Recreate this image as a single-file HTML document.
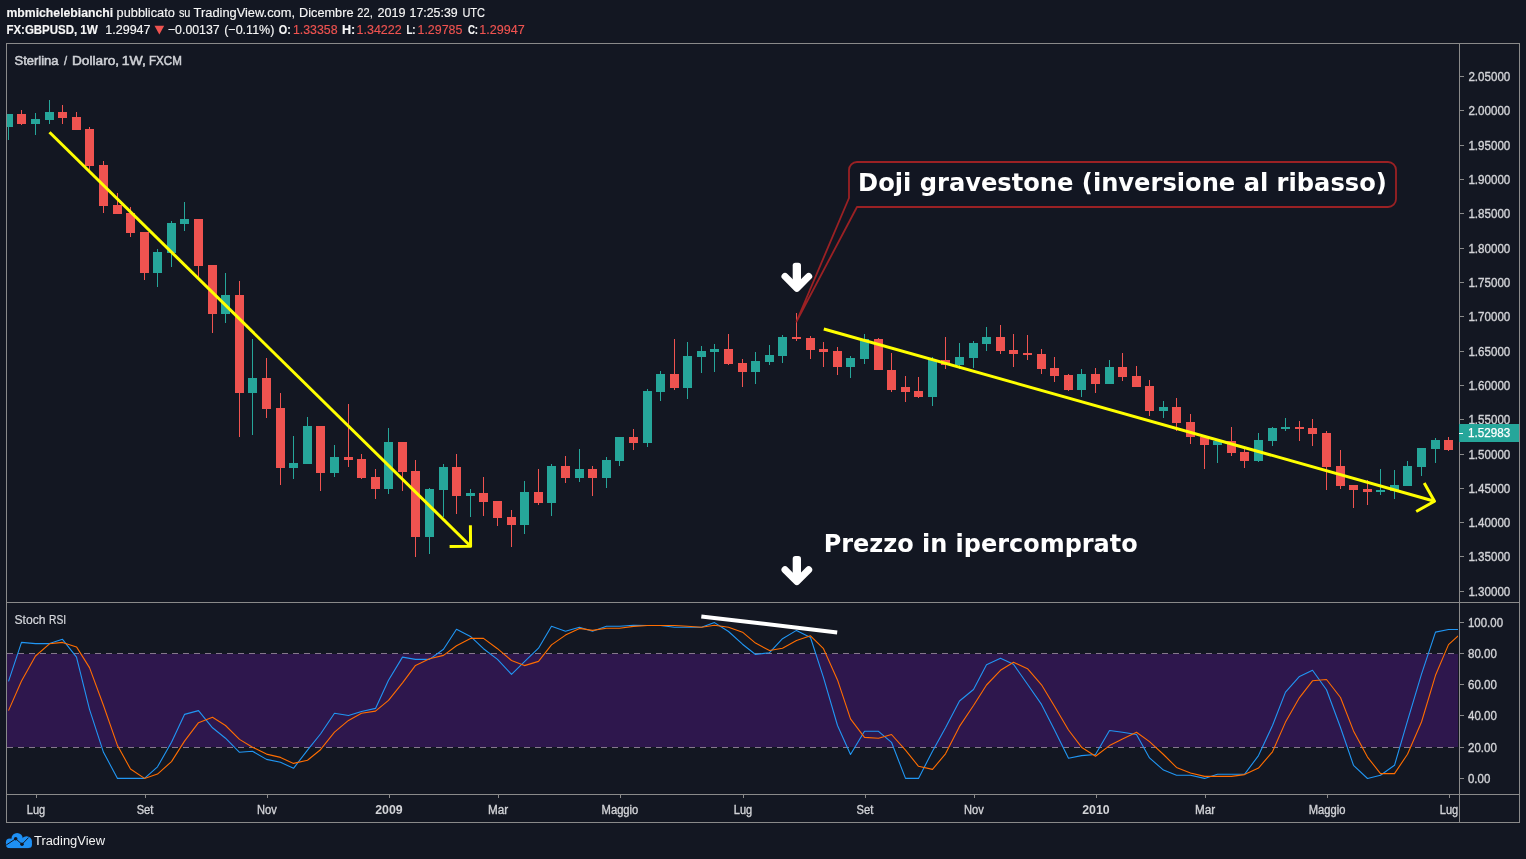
<!DOCTYPE html><html lang="it"><head><meta charset="utf-8"><title>GBPUSD</title><style>
html,body{margin:0;padding:0;background:#131722}body{width:1526px;height:859px;overflow:hidden;position:relative}
svg{display:block;position:absolute;left:0;top:0;will-change:transform}
text{font-family:"Liberation Sans",sans-serif;fill:#d1d4dc}
.b{font-weight:bold}.ax{font-size:12px;fill:#d2d3d7}.sb{stroke:#d2d3d7;stroke-width:0.35px}.dj{font-family:"DejaVu Sans",sans-serif;font-weight:bold;font-size:24px;fill:#fff}
.hd{font-size:13px;fill:#f6f6f6;stroke:#f6f6f6;stroke-width:0.15px}.rd{fill:#ef5350;stroke:#ef5350}.sr{font-size:12px;fill:#d6d8dd;stroke:#d6d8dd;stroke-width:0.2px}.st{font-size:12px;fill:#cfd1d6;stroke:#cfd1d6;stroke-width:0.5px}
</style></head><body>
<svg width="1526" height="859" viewBox="0 0 1526 859">
<rect width="1526" height="859" fill="#131722"/>
<defs><clipPath id="cm"><rect x="7" y="44" width="1451" height="558"/></clipPath><clipPath id="cs"><rect x="7" y="603" width="1451" height="191"/></clipPath><clipPath id="ct"><rect x="7" y="795" width="1452" height="27"/></clipPath></defs>
<text x="6.4" y="16.5" class="hd b" textLength="106.8" lengthAdjust="spacingAndGlyphs">mbmichelebianchi</text>
<text x="116.6" y="16.5" class="hd" textLength="58.2" lengthAdjust="spacingAndGlyphs">pubblicato</text>
<text x="178.9" y="16.5" class="hd" textLength="11.5" lengthAdjust="spacingAndGlyphs">su</text>
<text x="193.6" y="16.5" class="hd" textLength="101.4" lengthAdjust="spacingAndGlyphs">TradingView.com,</text>
<text x="299.1" y="16.5" class="hd" textLength="54.4" lengthAdjust="spacingAndGlyphs">Dicembre</text>
<text x="357.3" y="16.5" class="hd" textLength="15.5" lengthAdjust="spacingAndGlyphs">22,</text>
<text x="377.4" y="16.5" class="hd" textLength="28.1" lengthAdjust="spacingAndGlyphs">2019</text>
<text x="409.5" y="16.5" class="hd" textLength="48.2" lengthAdjust="spacingAndGlyphs">17:25:39</text>
<text x="462.4" y="16.5" class="hd" textLength="22.7" lengthAdjust="spacingAndGlyphs">UTC</text>
<text x="6.4" y="33.6" class="hd b" textLength="70.8" lengthAdjust="spacingAndGlyphs">FX:GBPUSD,</text>
<text x="80.3" y="33.6" class="hd b" textLength="17.7" lengthAdjust="spacingAndGlyphs">1W</text>
<text x="105.3" y="33.6" class="hd" textLength="45.2" lengthAdjust="spacingAndGlyphs">1.29947</text>
<text x="167.9" y="33.6" class="hd" textLength="51.8" lengthAdjust="spacingAndGlyphs">−0.00137</text>
<text x="224.2" y="33.6" class="hd" textLength="50.2" lengthAdjust="spacingAndGlyphs">(−0.11%)</text>
<text x="278.7" y="33.6" class="hd b" textLength="12.1" lengthAdjust="spacingAndGlyphs">O:</text>
<text x="292.9" y="33.6" class="hd rd" textLength="44.7" lengthAdjust="spacingAndGlyphs">1.33358</text>
<text x="341.9" y="33.6" class="hd b" textLength="13.3" lengthAdjust="spacingAndGlyphs">H:</text>
<text x="356.5" y="33.6" class="hd rd" textLength="45.2" lengthAdjust="spacingAndGlyphs">1.34222</text>
<text x="406.4" y="33.6" class="hd b" textLength="9.2" lengthAdjust="spacingAndGlyphs">L:</text>
<text x="417.5" y="33.6" class="hd rd" textLength="44.9" lengthAdjust="spacingAndGlyphs">1.29785</text>
<text x="467.9" y="33.6" class="hd b" textLength="10.2" lengthAdjust="spacingAndGlyphs">C:</text>
<text x="479.2" y="33.6" class="hd rd" textLength="45.5" lengthAdjust="spacingAndGlyphs">1.29947</text>
<text x="14.5" y="64.6" class="st" textLength="44.0" lengthAdjust="spacingAndGlyphs">Sterlina</text>
<text x="63.9" y="64.6" class="st" textLength="3.1" lengthAdjust="spacingAndGlyphs">/</text>
<text x="72.0" y="64.6" class="st" textLength="47.1" lengthAdjust="spacingAndGlyphs">Dollaro,</text>
<text x="121.7" y="64.6" class="st" textLength="24.1" lengthAdjust="spacingAndGlyphs">1W,</text>
<text x="149.0" y="64.6" class="st" textLength="32.8" lengthAdjust="spacingAndGlyphs">FXCM</text>
<text x="14.5" y="623.9" class="sr" textLength="31.1" lengthAdjust="spacingAndGlyphs">Stoch</text>
<text x="49.0" y="623.9" class="sr" textLength="17.1" lengthAdjust="spacingAndGlyphs">RSI</text>
<path d="M154.5 25.7H164.2L159.35 34.5Z" fill="#ef5350"/>
<g fill="#8a8a8a" shape-rendering="crispEdges">
<rect x="6" y="43" width="1514" height="1"/><rect x="6" y="602" width="1514" height="1"/><rect x="6" y="794" width="1514" height="1"/><rect x="6" y="822" width="1514" height="1"/>
<rect x="6" y="43" width="1" height="780"/><rect x="1459" y="43" width="1" height="780"/><rect x="1519" y="43" width="1" height="780"/>
<rect x="1460" y="76" width="4" height="1"/>
<rect x="1460" y="110" width="4" height="1"/>
<rect x="1460" y="145" width="4" height="1"/>
<rect x="1460" y="179" width="4" height="1"/>
<rect x="1460" y="213" width="4" height="1"/>
<rect x="1460" y="248" width="4" height="1"/>
<rect x="1460" y="282" width="4" height="1"/>
<rect x="1460" y="316" width="4" height="1"/>
<rect x="1460" y="351" width="4" height="1"/>
<rect x="1460" y="385" width="4" height="1"/>
<rect x="1460" y="419" width="4" height="1"/>
<rect x="1460" y="454" width="4" height="1"/>
<rect x="1460" y="488" width="4" height="1"/>
<rect x="1460" y="522" width="4" height="1"/>
<rect x="1460" y="556" width="4" height="1"/>
<rect x="1460" y="591" width="4" height="1"/>
<rect x="1460" y="778" width="4" height="1"/>
<rect x="1460" y="747" width="4" height="1"/>
<rect x="1460" y="715" width="4" height="1"/>
<rect x="1460" y="684" width="4" height="1"/>
<rect x="1460" y="653" width="4" height="1"/>
<rect x="1460" y="622" width="4" height="1"/>
</g>
<rect x="7" y="654" width="1451" height="93" fill="#2e174d"/>
<g stroke="#85788c" stroke-width="1" stroke-dasharray="6,5" shape-rendering="crispEdges"><line x1="7" y1="653.5" x2="1458" y2="653.5"/><line x1="7" y1="747.5" x2="1458" y2="747.5"/></g>
<polyline clip-path="url(#cs)" points="8.5,681.4 21.5,642.4 35.5,643.6 49.5,643.6 62.5,639.3 76.5,657.1 89.5,709.3 103.5,752.3 117.5,778.4 130.5,778.4 144.5,778.4 157.5,766.8 171.5,742.3 184.5,714.4 198.5,710.6 212.5,727.8 225.5,738.2 239.5,752.3 252.5,751.2 266.5,759.4 280.5,762.3 293.5,768.3 307.5,750.1 320.5,734.0 334.5,713.3 348.5,715.5 361.5,711.5 375.5,708.4 388.5,680.3 402.5,657.1 415.5,659.4 429.5,659.4 443.5,649.3 456.5,629.3 470.5,636.4 483.5,648.7 497.5,659.4 511.5,674.3 524.5,661.6 538.5,648.2 551.5,626.2 565.5,631.3 579.5,627.3 592.5,631.3 606.5,626.2 619.5,626.2 633.5,625.3 647.5,625.5 660.5,625.5 674.5,627.3 687.5,627.3 701.5,627.3 714.5,622.6 728.5,631.5 742.5,644.2 755.5,654.5 769.5,652.7 782.5,638.7 796.5,630.4 810.5,637.5 823.5,677.6 837.5,725.5 850.5,754.5 864.5,731.3 878.5,731.3 891.5,742.3 905.5,778.4 918.5,778.4 932.5,751.2 945.5,727.8 959.5,701.0 973.5,689.5 986.5,664.7 1000.5,658.3 1013.5,664.3 1027.5,684.3 1041.5,704.4 1054.5,730.0 1068.5,758.3 1081.5,755.6 1095.5,754.5 1109.5,730.5 1122.5,732.2 1136.5,734.5 1149.5,757.9 1163.5,770.1 1176.5,775.2 1190.5,775.2 1204.5,778.4 1217.5,774.3 1231.5,774.3 1244.5,774.3 1258.5,755.6 1272.5,725.5 1285.5,692.1 1299.5,676.4 1312.5,670.2 1326.5,689.7 1340.5,727.5 1353.5,765.3 1367.5,778.5 1380.5,775.3 1394.5,765.3 1407.5,720.9 1421.5,674.2 1435.5,632.1 1448.5,629.5 1462.5,629.5" fill="none" stroke="#2196f3" stroke-width="1.1" stroke-linejoin="round"/>
<polyline clip-path="url(#cs)" points="8.5,710.6 21.5,681.0 35.5,656.0 49.5,643.8 62.5,642.4 76.5,646.9 89.5,667.6 103.5,705.5 117.5,745.6 130.5,769.0 144.5,778.4 157.5,774.1 171.5,761.6 184.5,741.1 198.5,722.7 212.5,717.3 225.5,725.5 239.5,739.4 252.5,747.2 266.5,754.1 280.5,757.4 293.5,763.4 307.5,760.3 320.5,749.7 334.5,732.2 348.5,720.4 361.5,713.3 375.5,711.1 388.5,700.4 402.5,682.8 415.5,665.4 429.5,658.7 443.5,655.4 456.5,645.8 470.5,638.4 483.5,638.4 497.5,648.7 511.5,660.5 524.5,665.6 538.5,661.4 551.5,644.9 565.5,635.1 579.5,628.4 592.5,630.4 606.5,628.2 619.5,628.2 633.5,626.4 647.5,625.5 660.5,625.5 674.5,625.5 687.5,626.2 701.5,627.3 714.5,625.3 728.5,627.3 742.5,632.2 755.5,643.1 769.5,650.5 782.5,648.2 796.5,640.4 810.5,635.8 823.5,648.7 837.5,679.9 850.5,718.9 864.5,737.4 878.5,738.3 891.5,734.5 905.5,750.1 918.5,766.3 932.5,769.4 945.5,753.8 959.5,726.4 973.5,705.5 986.5,685.0 1000.5,670.3 1013.5,662.3 1027.5,668.7 1041.5,684.8 1054.5,706.2 1068.5,730.0 1081.5,747.2 1095.5,756.3 1109.5,745.6 1122.5,738.9 1136.5,732.2 1149.5,741.6 1163.5,754.5 1176.5,767.4 1190.5,773.0 1204.5,776.4 1217.5,776.4 1231.5,776.4 1244.5,774.6 1258.5,768.1 1272.5,751.8 1285.5,722.1 1299.5,697.6 1312.5,680.8 1326.5,679.5 1340.5,697.5 1353.5,730.9 1367.5,757.1 1380.5,773.6 1394.5,773.6 1407.5,754.2 1421.5,722.0 1435.5,675.3 1448.5,644.6 1462.5,631.9" fill="none" stroke="#ff6d00" stroke-width="1.1" stroke-linejoin="round"/>
<line x1="701.3" y1="616.4" x2="837.2" y2="632.4" stroke="#fff" stroke-width="4"/>
<g clip-path="url(#cm)" shape-rendering="crispEdges">
<path fill="#26a69a" d="M8 114h1v26h-1zM4 114h9v13h-9z"/>
<path fill="#ef5350" d="M21 110h1v15h-1zM17 114h9v10h-9z"/>
<path fill="#26a69a" d="M35 113h1v22h-1zM31 119h9v5h-9z"/>
<path fill="#26a69a" d="M49 100h1v24h-1zM45 112h9v8h-9z"/>
<path fill="#ef5350" d="M62 105h1v19h-1zM58 112h9v6h-9z"/>
<path fill="#ef5350" d="M76 112h1v18h-1zM72 117h9v13h-9z"/>
<path fill="#ef5350" d="M89 127h1v43h-1zM85 129h9v37h-9z"/>
<path fill="#ef5350" d="M103 161h1v52h-1zM99 165h9v41h-9z"/>
<path fill="#ef5350" d="M117 193h1v21h-1zM113 205h9v9h-9z"/>
<path fill="#ef5350" d="M130 207h1v30h-1zM126 213h9v20h-9z"/>
<path fill="#ef5350" d="M144 232h1v48h-1zM140 232h9v41h-9z"/>
<path fill="#26a69a" d="M157 249h1v38h-1zM153 252h9v21h-9z"/>
<path fill="#26a69a" d="M171 221h1v46h-1zM167 223h9v30h-9z"/>
<path fill="#26a69a" d="M184 202h1v29h-1zM180 219h9v5h-9z"/>
<path fill="#ef5350" d="M198 219h1v58h-1zM194 219h9v47h-9z"/>
<path fill="#ef5350" d="M212 265h1v68h-1zM208 265h9v49h-9z"/>
<path fill="#26a69a" d="M225 273h1v50h-1zM221 295h9v19h-9z"/>
<path fill="#ef5350" d="M239 281h1v156h-1zM235 295h9v98h-9z"/>
<path fill="#26a69a" d="M252 339h1v96h-1zM248 378h9v15h-9z"/>
<path fill="#ef5350" d="M266 358h1v60h-1zM262 378h9v31h-9z"/>
<path fill="#ef5350" d="M280 393h1v92h-1zM276 408h9v60h-9z"/>
<path fill="#26a69a" d="M293 436h1v43h-1zM289 463h9v5h-9z"/>
<path fill="#26a69a" d="M307 417h1v47h-1zM303 426h9v38h-9z"/>
<path fill="#ef5350" d="M320 426h1v65h-1zM316 426h9v47h-9z"/>
<path fill="#26a69a" d="M334 445h1v32h-1zM330 457h9v16h-9z"/>
<path fill="#ef5350" d="M348 404h1v63h-1zM344 457h9v3h-9z"/>
<path fill="#ef5350" d="M361 454h1v25h-1zM357 459h9v19h-9z"/>
<path fill="#ef5350" d="M375 469h1v30h-1zM371 477h9v12h-9z"/>
<path fill="#26a69a" d="M388 428h1v66h-1zM384 442h9v47h-9z"/>
<path fill="#ef5350" d="M402 442h1v49h-1zM398 442h9v30h-9z"/>
<path fill="#ef5350" d="M415 460h1v97h-1zM411 471h9v66h-9z"/>
<path fill="#26a69a" d="M429 488h1v66h-1zM425 489h9v48h-9z"/>
<path fill="#26a69a" d="M443 464h1v53h-1zM439 467h9v23h-9z"/>
<path fill="#ef5350" d="M456 454h1v60h-1zM452 467h9v29h-9z"/>
<path fill="#26a69a" d="M470 489h1v28h-1zM466 493h9v3h-9z"/>
<path fill="#ef5350" d="M483 477h1v39h-1zM479 493h9v9h-9z"/>
<path fill="#ef5350" d="M497 501h1v25h-1zM493 501h9v17h-9z"/>
<path fill="#ef5350" d="M511 510h1v37h-1zM507 517h9v8h-9z"/>
<path fill="#26a69a" d="M524 481h1v53h-1zM520 492h9v33h-9z"/>
<path fill="#ef5350" d="M538 469h1v36h-1zM534 492h9v11h-9z"/>
<path fill="#26a69a" d="M551 464h1v52h-1zM547 466h9v37h-9z"/>
<path fill="#ef5350" d="M565 456h1v27h-1zM561 466h9v12h-9z"/>
<path fill="#26a69a" d="M579 449h1v33h-1zM575 469h9v9h-9z"/>
<path fill="#ef5350" d="M592 466h1v30h-1zM588 469h9v9h-9z"/>
<path fill="#26a69a" d="M606 457h1v31h-1zM602 460h9v18h-9z"/>
<path fill="#26a69a" d="M619 437h1v29h-1zM615 437h9v24h-9z"/>
<path fill="#ef5350" d="M633 429h1v21h-1zM629 437h9v6h-9z"/>
<path fill="#26a69a" d="M647 389h1v58h-1zM643 391h9v52h-9z"/>
<path fill="#26a69a" d="M660 371h1v30h-1zM656 374h9v18h-9z"/>
<path fill="#ef5350" d="M674 339h1v51h-1zM670 374h9v14h-9z"/>
<path fill="#26a69a" d="M687 342h1v57h-1zM683 356h9v32h-9z"/>
<path fill="#26a69a" d="M701 346h1v27h-1zM697 351h9v6h-9z"/>
<path fill="#26a69a" d="M714 344h1v28h-1zM710 349h9v3h-9z"/>
<path fill="#ef5350" d="M728 334h1v31h-1zM724 349h9v15h-9z"/>
<path fill="#ef5350" d="M742 359h1v28h-1zM738 363h9v9h-9z"/>
<path fill="#26a69a" d="M755 352h1v32h-1zM751 361h9v11h-9z"/>
<path fill="#26a69a" d="M769 345h1v20h-1zM765 355h9v7h-9z"/>
<path fill="#26a69a" d="M782 335h1v28h-1zM778 337h9v19h-9z"/>
<path fill="#ef5350" d="M796 313h1v28h-1zM792 337h9v2h-9z"/>
<path fill="#ef5350" d="M810 336h1v23h-1zM806 338h9v12h-9z"/>
<path fill="#ef5350" d="M823 342h1v25h-1zM819 349h9v3h-9z"/>
<path fill="#ef5350" d="M837 347h1v28h-1zM833 351h9v16h-9z"/>
<path fill="#26a69a" d="M850 356h1v22h-1zM846 358h9v9h-9z"/>
<path fill="#26a69a" d="M864 334h1v30h-1zM860 339h9v20h-9z"/>
<path fill="#ef5350" d="M878 338h1v32h-1zM874 339h9v31h-9z"/>
<path fill="#ef5350" d="M891 353h1v39h-1zM887 370h9v20h-9z"/>
<path fill="#ef5350" d="M905 376h1v26h-1zM901 387h9v5h-9z"/>
<path fill="#ef5350" d="M918 377h1v21h-1zM914 391h9v6h-9z"/>
<path fill="#26a69a" d="M932 357h1v49h-1zM928 360h9v37h-9z"/>
<path fill="#ef5350" d="M945 337h1v32h-1zM941 360h9v5h-9z"/>
<path fill="#26a69a" d="M959 343h1v26h-1zM955 357h9v8h-9z"/>
<path fill="#26a69a" d="M973 341h1v27h-1zM969 343h9v15h-9z"/>
<path fill="#26a69a" d="M986 327h1v24h-1zM982 337h9v7h-9z"/>
<path fill="#ef5350" d="M1000 325h1v29h-1zM996 337h9v14h-9z"/>
<path fill="#ef5350" d="M1013 334h1v33h-1zM1009 350h9v4h-9z"/>
<path fill="#ef5350" d="M1027 335h1v25h-1zM1023 353h9v2h-9z"/>
<path fill="#ef5350" d="M1041 349h1v25h-1zM1037 354h9v15h-9z"/>
<path fill="#ef5350" d="M1054 357h1v25h-1zM1050 368h9v8h-9z"/>
<path fill="#ef5350" d="M1068 374h1v17h-1zM1064 375h9v15h-9z"/>
<path fill="#26a69a" d="M1081 369h1v28h-1zM1077 374h9v16h-9z"/>
<path fill="#ef5350" d="M1095 368h1v25h-1zM1091 374h9v10h-9z"/>
<path fill="#26a69a" d="M1109 360h1v24h-1zM1105 367h9v17h-9z"/>
<path fill="#ef5350" d="M1122 353h1v28h-1zM1118 367h9v10h-9z"/>
<path fill="#ef5350" d="M1136 366h1v21h-1zM1132 376h9v11h-9z"/>
<path fill="#ef5350" d="M1149 380h1v36h-1zM1145 386h9v25h-9z"/>
<path fill="#26a69a" d="M1163 401h1v17h-1zM1159 407h9v4h-9z"/>
<path fill="#ef5350" d="M1176 398h1v33h-1zM1172 407h9v16h-9z"/>
<path fill="#ef5350" d="M1190 414h1v30h-1zM1186 422h9v15h-9z"/>
<path fill="#ef5350" d="M1204 437h1v32h-1zM1200 437h9v8h-9z"/>
<path fill="#26a69a" d="M1217 441h1v22h-1zM1213 441h9v4h-9z"/>
<path fill="#ef5350" d="M1231 427h1v29h-1zM1227 441h9v12h-9z"/>
<path fill="#ef5350" d="M1244 449h1v19h-1zM1240 452h9v9h-9z"/>
<path fill="#26a69a" d="M1258 433h1v29h-1zM1254 440h9v21h-9z"/>
<path fill="#26a69a" d="M1272 427h1v19h-1zM1268 428h9v13h-9z"/>
<path fill="#26a69a" d="M1285 418h1v13h-1zM1281 427h9v2h-9z"/>
<path fill="#ef5350" d="M1299 421h1v20h-1zM1295 427h9v2h-9z"/>
<path fill="#ef5350" d="M1312 419h1v27h-1zM1308 428h9v6h-9z"/>
<path fill="#ef5350" d="M1326 431h1v59h-1zM1322 433h9v34h-9z"/>
<path fill="#ef5350" d="M1340 450h1v39h-1zM1336 466h9v20h-9z"/>
<path fill="#ef5350" d="M1353 485h1v23h-1zM1349 485h9v5h-9z"/>
<path fill="#ef5350" d="M1367 480h1v25h-1zM1363 489h9v3h-9z"/>
<path fill="#26a69a" d="M1380 469h1v26h-1zM1376 490h9v2h-9z"/>
<path fill="#26a69a" d="M1394 470h1v29h-1zM1390 485h9v6h-9z"/>
<path fill="#26a69a" d="M1407 461h1v25h-1zM1403 466h9v20h-9z"/>
<path fill="#26a69a" d="M1421 448h1v28h-1zM1417 448h9v19h-9z"/>
<path fill="#26a69a" d="M1435 438h1v25h-1zM1431 440h9v9h-9z"/>
<path fill="#ef5350" d="M1448 437h1v14h-1zM1444 440h9v10h-9z"/>
</g>
<g stroke="#ffff00" stroke-width="3" fill="none" stroke-linecap="butt"><line x1="49.5" y1="132.2" x2="470.6" y2="546.2"/><polyline stroke-linejoin="round" points="449.6,546.4 470.6,546.2 470.4,525.2"/></g>
<g stroke="#ffff00" stroke-width="3" fill="none" stroke-linecap="butt"><line x1="823.8" y1="329.0" x2="1434.5" y2="501.2"/><polyline stroke-linejoin="round" points="1416.2,511.5 1434.5,501.2 1424.2,482.9"/></g>
<path d="M857 207H1388A8 8 0 0 0 1396 199V170A8 8 0 0 0 1388 162H857A8 8 0 0 0 849 170V198L796.5 321.5Z" fill="#131722" fill-opacity="0.7" stroke="#9b2124" stroke-width="1.8" stroke-linejoin="round"/>
<text x="858.1" y="190.6" class="dj" textLength="528.7" lengthAdjust="spacingAndGlyphs">Doji gravestone (inversione al ribasso)</text>
<text x="823.7" y="552.4" class="dj" textLength="314.0" lengthAdjust="spacingAndGlyphs">Prezzo in ipercomprato</text>
<g transform="translate(0,0)" stroke="#fff" fill="none" stroke-linecap="round" stroke-linejoin="round"><path d="M792.7 284V265.6a2.8 2.8 0 0 1 2.8 -2.8h2.7a2.8 2.8 0 0 1 2.8 2.8V284Z" fill="#fff" stroke="none"/><path d="M785 276.4L796.85 288.3L808.7 276.4" stroke-width="7"/></g>
<g transform="translate(0,293.3)" stroke="#fff" fill="none" stroke-linecap="round" stroke-linejoin="round"><path d="M792.7 284V265.6a2.8 2.8 0 0 1 2.8 -2.8h2.7a2.8 2.8 0 0 1 2.8 2.8V284Z" fill="#fff" stroke="none"/><path d="M785 276.4L796.85 288.3L808.7 276.4" stroke-width="7"/></g>
<text x="1468.4" y="80.9" class="ax sb" textLength="41.9" lengthAdjust="spacingAndGlyphs">2.05000</text>
<text x="1468.4" y="114.9" class="ax sb" textLength="41.9" lengthAdjust="spacingAndGlyphs">2.00000</text>
<text x="1468.4" y="149.9" class="ax sb" textLength="41.9" lengthAdjust="spacingAndGlyphs">1.95000</text>
<text x="1468.4" y="183.9" class="ax sb" textLength="41.9" lengthAdjust="spacingAndGlyphs">1.90000</text>
<text x="1468.4" y="217.9" class="ax sb" textLength="41.9" lengthAdjust="spacingAndGlyphs">1.85000</text>
<text x="1468.4" y="252.9" class="ax sb" textLength="41.9" lengthAdjust="spacingAndGlyphs">1.80000</text>
<text x="1468.4" y="286.9" class="ax sb" textLength="41.9" lengthAdjust="spacingAndGlyphs">1.75000</text>
<text x="1468.4" y="320.9" class="ax sb" textLength="41.9" lengthAdjust="spacingAndGlyphs">1.70000</text>
<text x="1468.4" y="355.9" class="ax sb" textLength="41.9" lengthAdjust="spacingAndGlyphs">1.65000</text>
<text x="1468.4" y="389.9" class="ax sb" textLength="41.9" lengthAdjust="spacingAndGlyphs">1.60000</text>
<text x="1468.4" y="423.9" class="ax sb" textLength="41.9" lengthAdjust="spacingAndGlyphs">1.55000</text>
<text x="1468.4" y="458.9" class="ax sb" textLength="41.9" lengthAdjust="spacingAndGlyphs">1.50000</text>
<text x="1468.4" y="492.9" class="ax sb" textLength="41.9" lengthAdjust="spacingAndGlyphs">1.45000</text>
<text x="1468.4" y="526.9" class="ax sb" textLength="41.9" lengthAdjust="spacingAndGlyphs">1.40000</text>
<text x="1468.4" y="560.9" class="ax sb" textLength="41.9" lengthAdjust="spacingAndGlyphs">1.35000</text>
<text x="1468.4" y="595.9" class="ax sb" textLength="41.9" lengthAdjust="spacingAndGlyphs">1.30000</text>
<text x="1468.0" y="782.9" class="ax sb" textLength="22.3" lengthAdjust="spacingAndGlyphs">0.00</text>
<text x="1468.0" y="751.9" class="ax sb" textLength="28.8" lengthAdjust="spacingAndGlyphs">20.00</text>
<text x="1468.0" y="719.9" class="ax sb" textLength="28.8" lengthAdjust="spacingAndGlyphs">40.00</text>
<text x="1468.0" y="688.9" class="ax sb" textLength="28.8" lengthAdjust="spacingAndGlyphs">60.00</text>
<text x="1468.0" y="657.9" class="ax sb" textLength="28.8" lengthAdjust="spacingAndGlyphs">80.00</text>
<text x="1468.0" y="626.9" class="ax sb" textLength="35.0" lengthAdjust="spacingAndGlyphs">100.00</text>
<rect x="1459" y="424" width="60" height="18" fill="#26a69a" shape-rendering="crispEdges"/><rect x="1459" y="433" width="4" height="1" fill="#fff" shape-rendering="crispEdges"/>
<text x="1468.0" y="437.0" class="ax" textLength="42.2" lengthAdjust="spacingAndGlyphs" style="fill:#fff;stroke:#fff;stroke-width:0.25px">1.52983</text>
<g clip-path="url(#ct)">
<rect x="36" y="795" width="1" height="3" fill="#8a8a8a" shape-rendering="crispEdges"/>
<text x="26.8" y="814.2" class="ax sb" textLength="18.4" lengthAdjust="spacingAndGlyphs">Lug</text>
<rect x="145" y="795" width="1" height="3" fill="#8a8a8a" shape-rendering="crispEdges"/>
<text x="136.7" y="814.2" class="ax sb" textLength="16.7" lengthAdjust="spacingAndGlyphs">Set</text>
<rect x="267" y="795" width="1" height="3" fill="#8a8a8a" shape-rendering="crispEdges"/>
<text x="257.1" y="814.2" class="ax sb" textLength="19.7" lengthAdjust="spacingAndGlyphs">Nov</text>
<rect x="389" y="795" width="1" height="3" fill="#8a8a8a" shape-rendering="crispEdges"/>
<text x="375.2" y="814.2" class="ax b" textLength="27.5" lengthAdjust="spacingAndGlyphs">2009</text>
<rect x="498" y="795" width="1" height="3" fill="#8a8a8a" shape-rendering="crispEdges"/>
<text x="487.9" y="814.2" class="ax sb" textLength="20.2" lengthAdjust="spacingAndGlyphs">Mar</text>
<rect x="620" y="795" width="1" height="3" fill="#8a8a8a" shape-rendering="crispEdges"/>
<text x="601.6" y="814.2" class="ax sb" textLength="36.7" lengthAdjust="spacingAndGlyphs">Maggio</text>
<rect x="743" y="795" width="1" height="3" fill="#8a8a8a" shape-rendering="crispEdges"/>
<text x="733.8" y="814.2" class="ax sb" textLength="18.4" lengthAdjust="spacingAndGlyphs">Lug</text>
<rect x="865" y="795" width="1" height="3" fill="#8a8a8a" shape-rendering="crispEdges"/>
<text x="856.6" y="814.2" class="ax sb" textLength="16.7" lengthAdjust="spacingAndGlyphs">Set</text>
<rect x="974" y="795" width="1" height="3" fill="#8a8a8a" shape-rendering="crispEdges"/>
<text x="964.1" y="814.2" class="ax sb" textLength="19.7" lengthAdjust="spacingAndGlyphs">Nov</text>
<rect x="1096" y="795" width="1" height="3" fill="#8a8a8a" shape-rendering="crispEdges"/>
<text x="1082.2" y="814.2" class="ax b" textLength="27.5" lengthAdjust="spacingAndGlyphs">2010</text>
<rect x="1205" y="795" width="1" height="3" fill="#8a8a8a" shape-rendering="crispEdges"/>
<text x="1194.9" y="814.2" class="ax sb" textLength="20.2" lengthAdjust="spacingAndGlyphs">Mar</text>
<rect x="1327" y="795" width="1" height="3" fill="#8a8a8a" shape-rendering="crispEdges"/>
<text x="1308.7" y="814.2" class="ax sb" textLength="36.7" lengthAdjust="spacingAndGlyphs">Maggio</text>
<rect x="1449" y="795" width="1" height="3" fill="#8a8a8a" shape-rendering="crispEdges"/>
<text x="1439.8" y="814.2" class="ax sb" textLength="18.4" lengthAdjust="spacingAndGlyphs">Lug</text>
</g>
<g transform="translate(5.9,832.9)"><g fill="#1e90f5"><circle cx="3.9" cy="9.6" r="3.9"/><circle cx="3.9" cy="11.3" r="3.9"/><circle cx="11.2" cy="5.6" r="5.6"/><circle cx="20.6" cy="8.8" r="5.5"/><circle cx="22.6" cy="11.7" r="3.5"/><rect x="3.9" y="8" width="18.7" height="7.2"/></g><path d="M0.2 12.2L9.8 5.85L16.1 11.4L22.6 4.7" fill="none" stroke="#131722" stroke-width="1"/><circle cx="9.8" cy="5.85" r="1.75" fill="#131722"/><circle cx="16.1" cy="11.4" r="1.75" fill="#131722"/></g>
<text x="34.0" y="845.1" class="" textLength="71.0" lengthAdjust="spacingAndGlyphs" style="font-size:12.5px;fill:#f4f4f4">TradingView</text>
</svg></body></html>
